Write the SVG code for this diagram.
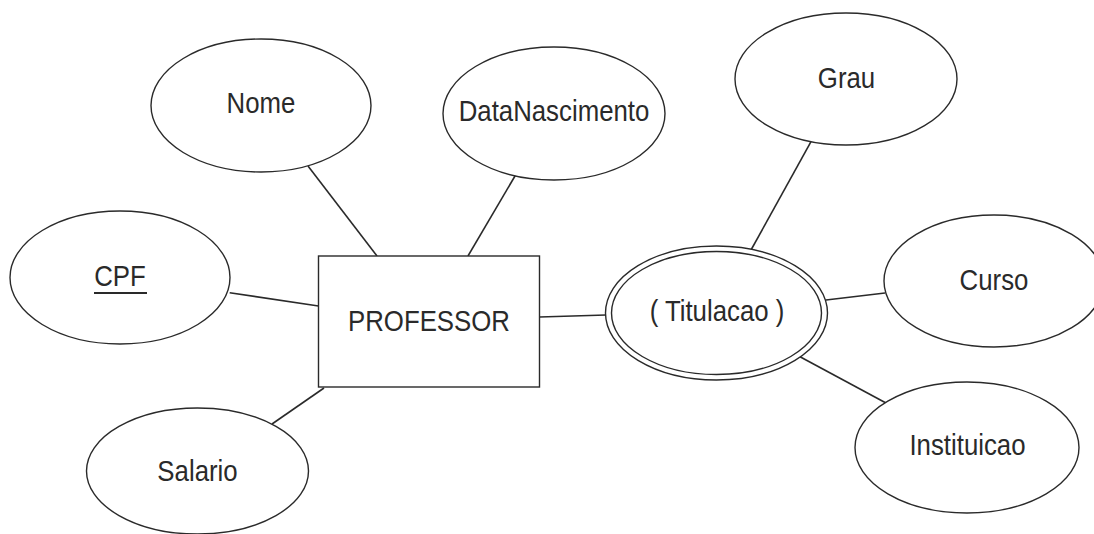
<svg xmlns="http://www.w3.org/2000/svg" width="1094" height="534" viewBox="0 0 1094 534">
<style>
.shape{fill:#fff;stroke:#2a2a2a;stroke-width:1.4}
.conn line{stroke:#2a2a2a;stroke-width:1.6}
text{font-family:"Liberation Sans",Arial,sans-serif;font-size:30px;fill:#2a2a2a;text-anchor:middle}
</style>
<rect width="1094" height="534" fill="#fff"/>
<g id="connectors" class="conn">
<line x1="308" y1="166" x2="377" y2="256"/>
<line x1="515.6" y1="175" x2="468" y2="256"/>
<line x1="229.7" y1="292.7" x2="318.5" y2="306"/>
<line x1="324" y1="388" x2="272" y2="424"/>
<line x1="539.5" y1="317" x2="606" y2="315"/>
<line x1="811" y1="141.7" x2="751" y2="250"/>
<line x1="826" y1="300" x2="885" y2="293"/>
<line x1="800" y1="356.7" x2="886" y2="403"/>
</g>
<g id="professor">
<rect class="shape" x="318.5" y="256" width="221" height="131"/>
<text transform="translate(429,331) scale(0.86,1)">PROFESSOR</text>
</g>
<g id="nome">
<ellipse class="shape" cx="261" cy="105.5" rx="110" ry="66.5"/>
<text transform="translate(261,113) scale(0.86,1)">Nome</text>
</g>
<g id="datanascimento">
<ellipse class="shape" cx="554" cy="113.5" rx="111" ry="66.5"/>
<text transform="translate(554,121) scale(0.86,1)">DataNascimento</text>
</g>
<g id="cpf">
<ellipse class="shape" cx="120" cy="277.5" rx="110" ry="66.5"/>
<text transform="translate(120,286) scale(0.86,1)">CPF</text>
<line x1="94" y1="293" x2="147" y2="293" stroke="#2a2a2a" stroke-width="1.8"/>
</g>
<g id="salario">
<ellipse class="shape" cx="197.5" cy="471" rx="111" ry="63"/>
<text transform="translate(197.5,481) scale(0.86,1)">Salario</text>
</g>
<g id="titulacao">
<ellipse class="shape" cx="716.5" cy="313" rx="111" ry="67"/>
<ellipse class="shape" cx="716.5" cy="313" rx="105" ry="61.5"/>
<text transform="translate(717,321) scale(0.86,1)">( Titulacao )</text>
</g>
<g id="grau">
<ellipse class="shape" cx="846" cy="79" rx="111" ry="66"/>
<text transform="translate(846.5,88) scale(0.86,1)">Grau</text>
</g>
<g id="curso">
<ellipse class="shape" cx="994" cy="281" rx="110" ry="66"/>
<text transform="translate(994,290) scale(0.86,1)">Curso</text>
</g>
<g id="instituicao">
<ellipse class="shape" cx="967" cy="447.5" rx="112" ry="65.5"/>
<text transform="translate(967.5,455) scale(0.86,1)">Instituicao</text>
</g>
</svg>
